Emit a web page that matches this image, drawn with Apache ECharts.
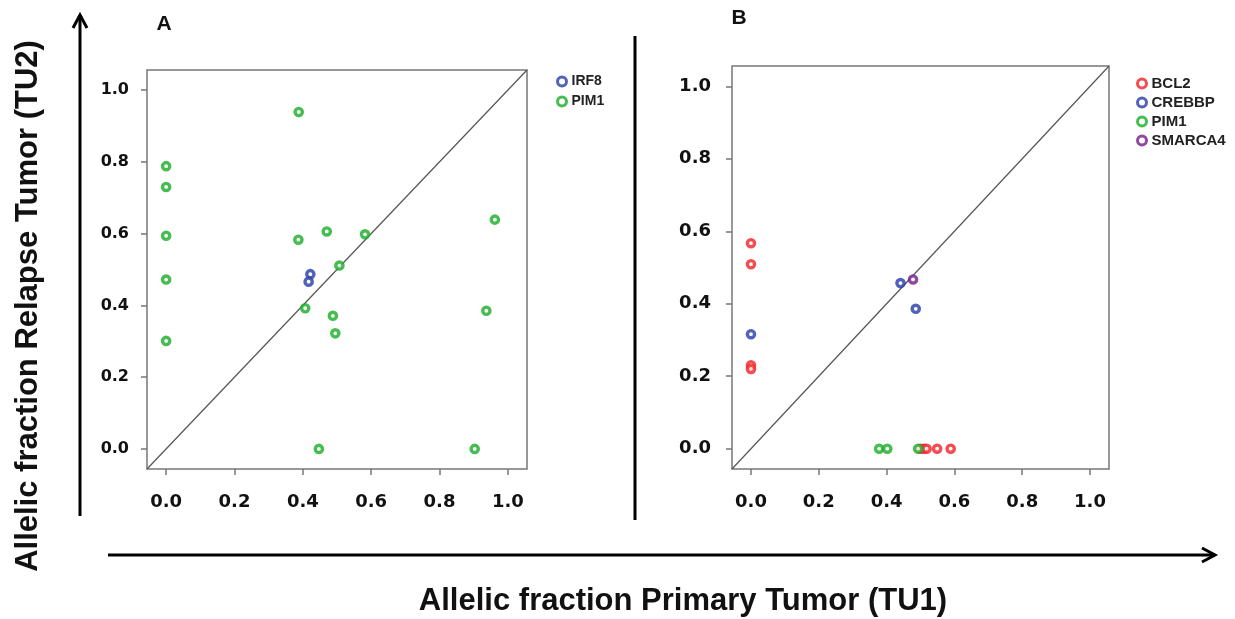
<!DOCTYPE html>
<html>
<head>
<meta charset="utf-8">
<script src="https://cdn.jsdelivr.net/npm/echarts@6/dist/echarts.min.js"></script>
<style>
    html, body { margin: 0; padding: 0; background: #fff; }
    #chart { width: 1235px; height: 619px; }
</style>
</head>
<body>
<div id="chart"></div>
<script>
// tick values and axis range (same for both panels)
const tickValues = [0, 0.2, 0.4, 0.6, 0.8, 1.0];
const axisMin = -0.056;
const axisMax = 1.056;

// Panel A: [primary TU1, relapse TU2]
const aIRF8 = [[0.422, 0.487], [0.417, 0.466]];
const aPIM1 = [
    [0.388, 0.939], [0, 0.788], [0, 0.730], [0, 0.594], [0, 0.472], [0, 0.301],
    [0.387, 0.583], [0.470, 0.606], [0.582, 0.598], [0.507, 0.511], [0.407, 0.392],
    [0.488, 0.371], [0.495, 0.322], [0.962, 0.639], [0.937, 0.385], [0.447, 0], [0.903, 0]
];

// Panel B
const bBCL2 = [[0, 0.567], [0, 0.509], [0, 0.230], [0, 0.220], [0.500, 0], [0.510, 0], [0.518, 0], [0.549, 0], [0.589, 0]];
const bCREBBP = [[0, 0.316], [0.441, 0.457], [0.486, 0.386]];
const bPIM1 = [[0.378, 0], [0.402, 0], [0.493, 0]];
const bSMARCA4 = [[0.478, 0.467]];

const colors = {
    IRF8: '#263ca6',
    CREBBP: '#263ca6',
    PIM1: '#18ad26',
    BCL2: '#f21f26',
    SMARCA4: '#761a88'
};

const tickFont = 'DejaVu Sans';
const textFont = 'Liberation Sans, Arial, sans-serif';

function makeAxis(gridIndex, labelSize, labelMargin) {
    return {
        type: 'value',
        gridIndex: gridIndex,
        min: axisMin,
        max: axisMax,
        axisLine: { show: false, onZero: false },
        splitLine: { show: false },
        axisTick: {
            show: true,
            inside: false,
            length: 6,
            customValues: tickValues,
            lineStyle: { color: '#777', width: 1.5 }
        },
        axisLabel: {
            customValues: tickValues,
            margin: labelMargin,
            fontFamily: tickFont,
            fontWeight: 'bold',
            fontSize: labelSize,
            color: '#111',
            formatter: function (v) { return v.toFixed(1); }
        }
    };
}

function scatter(name, data, xi, yi) {
    return {
        name: name,
        type: 'scatter',
        xAxisIndex: xi,
        yAxisIndex: yi,
        symbol: 'circle',
        symbolSize: 7.2,
        itemStyle: { color: '#fff', borderColor: colors[name], borderWidth: 3.4 },
        data: data,
        z: 3
    };
}

function diagonal(xi, yi) {
    return {
        type: 'line',
        xAxisIndex: xi,
        yAxisIndex: yi,
        symbol: 'none',
        silent: true,
        lineStyle: { color: '#555', width: 1.2 },
        data: [[axisMin, axisMin], [axisMax, axisMax]],
        z: 2
    };
}

function legendText(size) {
    return { fontFamily: textFont, fontWeight: 'bold', fontSize: size, color: '#222', lineHeight: 15 };
}

let chart = echarts.init(document.getElementById('chart'), null, { renderer: 'canvas' });
let option = {
    animation: false,
    backgroundColor: '#fff',

    grid: [
        { left: 147, top: 70, width: 380, height: 399, show: true, borderColor: '#777', borderWidth: 1.5 },
        { left: 732, top: 66, width: 377, height: 403, show: true, borderColor: '#777', borderWidth: 1.5 }
    ],

    xAxis: [makeAxis(0, 18, 24), makeAxis(1, 18, 24)],
    yAxis: [makeAxis(0, 16, 18), makeAxis(1, 18, 21)],

    // legends, one per panel
    legend: [
        {
            orient: 'vertical', left: 556, top: 74, padding: 0, itemGap: 5,
            itemWidth: 9, itemHeight: 9, icon: 'circle',
            itemStyle: { borderWidth: 3 },
            textStyle: legendText(14),
            data: ['IRF8', 'PIM1']
        },
        {
            orient: 'vertical', left: 1136, top: 76, padding: 0, itemGap: 4,
            itemWidth: 9, itemHeight: 9, icon: 'circle',
            itemStyle: { borderWidth: 3 },
            textStyle: legendText(15),
            data: ['BCL2', 'CREBBP', 'PIM1', 'SMARCA4']
        }
    ],

    // Add series
    series: [
        diagonal(0, 0),
        scatter('IRF8', aIRF8, 0, 0),
        scatter('PIM1', aPIM1, 0, 0),
        diagonal(1, 1),
        scatter('BCL2', bBCL2, 1, 1),
        scatter('CREBBP', bCREBBP, 1, 1),
        scatter('PIM1', bPIM1, 1, 1),
        scatter('SMARCA4', bSMARCA4, 1, 1)
    ],

    // arrows, divider, panel letters and axis titles
    graphic: [
        { type: 'line', shape: { x1: 80, y1: 516, x2: 80, y2: 15 }, style: { stroke: '#000', lineWidth: 3 } },
        { type: 'polyline', shape: { points: [[73, 28], [80, 15], [87, 28]] }, style: { stroke: '#000', lineWidth: 3, fill: null } },
        { type: 'line', shape: { x1: 108, y1: 555, x2: 1215, y2: 555 }, style: { stroke: '#000', lineWidth: 3 } },
        { type: 'polyline', shape: { points: [[1202, 548], [1215, 555], [1202, 562]] }, style: { stroke: '#000', lineWidth: 3, fill: null } },
        { type: 'line', shape: { x1: 635, y1: 36, x2: 635, y2: 520 }, style: { stroke: '#000', lineWidth: 3 } },
        {
            type: 'text', x: 164, y: 24,
            style: { text: 'A', fontFamily: textFont, fontWeight: 'bold', fontSize: 21, fill: '#111', align: 'center', verticalAlign: 'middle' }
        },
        {
            type: 'text', x: 739, y: 18,
            style: { text: 'B', fontFamily: textFont, fontWeight: 'bold', fontSize: 21, fill: '#111', align: 'center', verticalAlign: 'middle' }
        },
        {
            type: 'text', x: 683, y: 601,
            style: { text: 'Allelic fraction Primary Tumor (TU1)', fontFamily: textFont, fontWeight: 'bold', fontSize: 31, fill: '#111', align: 'center', verticalAlign: 'middle' }
        },
        {
            type: 'text', x: 28, y: 306, rotation: Math.PI / 2,
            style: { text: 'Allelic fraction Relapse Tumor (TU2)', fontFamily: textFont, fontWeight: 'bold', fontSize: 31, fill: '#111', align: 'center', verticalAlign: 'middle' }
        }
    ]
};

chart.setOption(option);

window.addEventListener('resize', function () {
    chart.resize();
});
</script>
</body>
</html>
